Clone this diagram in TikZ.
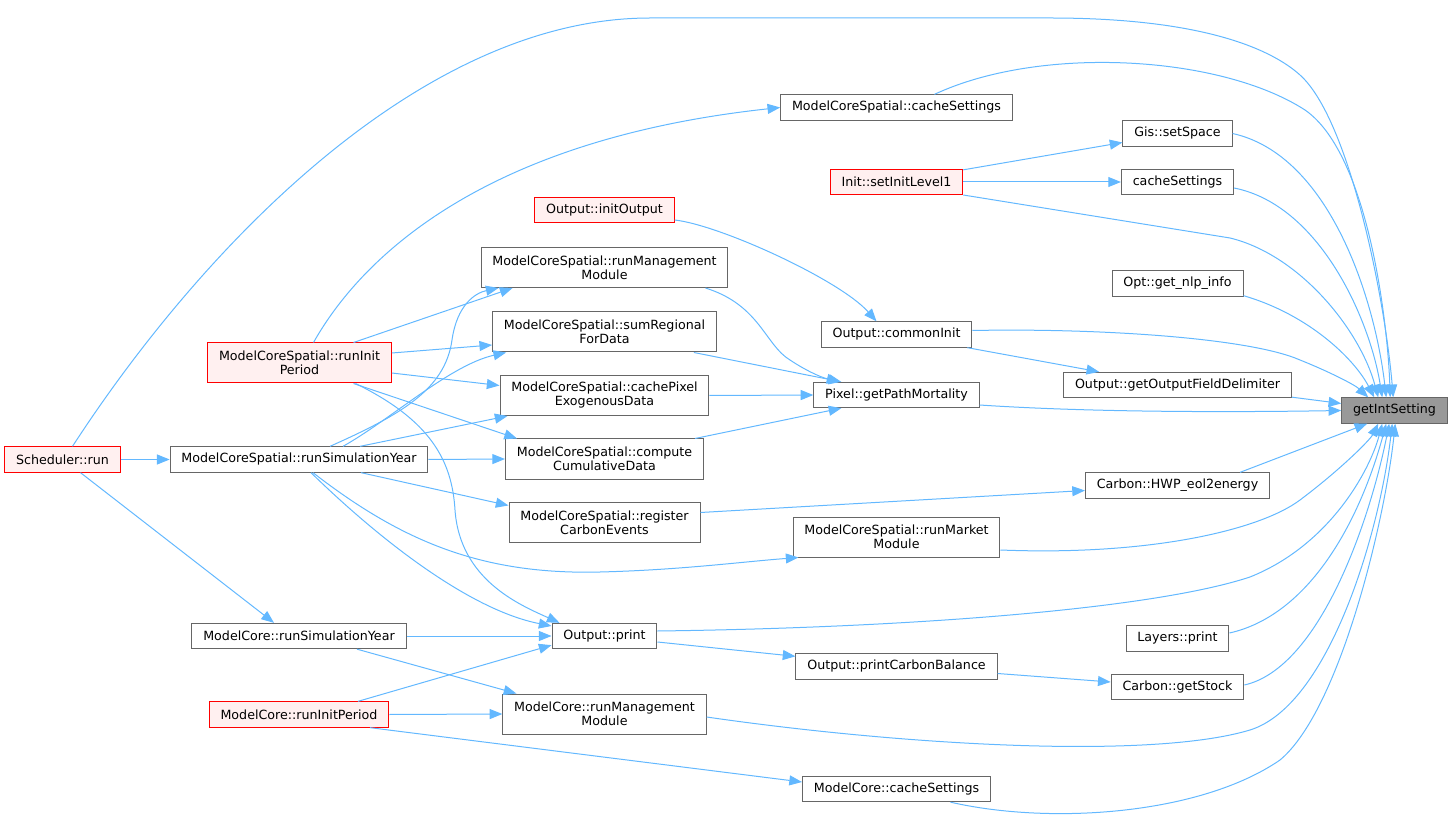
\documentclass[tikz,border=0pt]{standalone}
\usepackage{fontspec}
\setmainfont{DejaVu Sans}
\usepackage{tikz}
\usetikzlibrary{calc,arrows.meta}

\definecolor{edgeblue}{HTML}{63B8FF}
\definecolor{boxgray}{HTML}{666666}
\definecolor{rootgray}{HTML}{999999}
\definecolor{redfill}{HTML}{FFF0F0}

\begin{document}
\begin{tikzpicture}[x=0.75pt, y=-0.75pt,
    fn/.style={draw=boxgray, fill=white, line width=0.75pt, align=center,
      font=\fontsize{9.5}{10.5}\selectfont, inner xsep=8.5pt, inner ysep=4.6pt,
      minimum height=19pt},
    two/.style={minimum height=30pt},
    fnred/.style={fn, draw=red, fill=redfill},
    fnroot/.style={fn, fill=rootgray},
    call/.style={draw=edgeblue, line width=0.75pt,
      -{Triangle[length=9.5pt, width=7.5pt]}}]
    \useasboundingbox (0,0) rectangle (1453,823);

    % the function itself
    \node[fnroot] (g) at (1394.5,410.5) {getIntSetting};

    % left side
    \node[fnred] (sched) at (62.5,459.5) {Scheduler::run};
    \node[fn] (mcsSimYear) at (299,459.5) {ModelCoreSpatial::runSimulationYear};
    \node[fnred, two] (mcsInitPer) at (299.5,363) {ModelCoreSpatial::runInit\\Period};
    \node[fn] (mcSimYear) at (299,636) {ModelCore::runSimulationYear};
    \node[fnred] (mcInitPer) at (299,714.5) {ModelCore::runInitPeriod};

    % second column
    \node[fnred] (initOut) at (604.5,210) {Output::initOutput};
    \node[fn, two] (mcsMgmt) at (604.5,267.5) {ModelCoreSpatial::runManagement\\Module};
    \node[fn, two] (mcsSumReg) at (604.5,332) {ModelCoreSpatial::sumRegional\\ForData};
    \node[fn, two] (mcsPixel) at (604.5,395.5) {ModelCoreSpatial::cachePixel\\ExogenousData};
    \node[fn, two] (mcsCumul) at (604.5,459) {ModelCoreSpatial::compute\\CumulativeData};
    \node[fn, two] (mcsCarbon) at (604.5,522.5) {ModelCoreSpatial::register\\CarbonEvents};
    \node[fn] (outPrint) at (604.5,636) {Output::print};
    \node[fn, two] (mcMgmt) at (604.5,714) {ModelCore::runManagement\\Module};

    % third column
    \node[fn] (mcsCache) at (896.5,107.5) {ModelCoreSpatial::cacheSettings};
    \node[fnred] (initLvl) at (896.5,182) {Init::setInitLevel1};
    \node[fn] (commonInit) at (896.5,334.5) {Output::commonInit};
    \node[fn] (pixPath) at (896.5,395) {Pixel::getPathMortality};
    \node[fn, two] (mcsMarket) at (896.5,537) {ModelCoreSpatial::runMarket\\Module};
    \node[fn] (printCarb) at (896.5,666.5) {Output::printCarbonBalance};
    \node[fn] (mcCache) at (896.5,789) {ModelCore::cacheSettings};

    % fourth column
    \node[fn] (gisSpace) at (1177.5,133.5) {Gis::setSpace};
    \node[fn] (cacheSet) at (1177.5,182) {cacheSettings};
    \node[fn] (optNlp) at (1177.5,283.5) {Opt::get\_nlp\_info};
    \node[fn] (outDelim) at (1177.5,385) {Output::getOutputFieldDelimiter};
    \node[fn] (hwp) at (1177.5,485.5) {Carbon::HWP\_eol2energy};
    \node[fn] (layPrint) at (1177.5,638.5) {Layers::print};
    \node[fn] (getStock) at (1177.5,687) {Carbon::getStock};

    % Scheduler::run
    \draw[call] (sched.east) -- (mcsSimYear.west);
    \draw[call] ($(sched.south)+(18,0)$) -- ($(mcSimYear.north)-(25,0)$);
    \draw[call] ($(sched.north)+(10,0)$) .. controls (200,250) and (420,18) .. (650,18)
      -- (1050,18) .. controls (1200,18) and (1270,48) .. (1300,75)
      .. controls (1350,120) and (1385,300) .. ($(g.north west)+(52,0)$);

    % ModelCoreSpatial::runInitPeriod
    \draw[call] ($(mcsInitPer.north)+(14,0)$) .. controls (360,260) and (480,140) .. (mcsCache.west);
    \draw[call] ($(mcsInitPer.north)+(54,0)$) -- ($(mcsMgmt.south west)+(32,0)$);
    \draw[call] ($(mcsInitPer.east)+(0,-10)$) -- ($(mcsSumReg.west)+(0,13)$);
    \draw[call] ($(mcsInitPer.east)+(0,10)$) -- ($(mcsPixel.west)+(0,-10)$);
    \draw[call] ($(mcsInitPer.south)+(54,0)$) -- ($(mcsCumul.north west)+(12,0)$);
    \draw[call] ($(mcsInitPer.south)+(56,0)$) .. controls (430,420) and (452,460) .. (455,510)
      .. controls (460,580) and (520,605) .. ($(outPrint.north west)+(8,0)$);

    % ModelCoreSpatial::runSimulationYear
    \draw[call] ($(mcsSimYear.north)+(31,0)$) .. controls (400,415) and (445,390) .. (452,340)
      .. controls (457,305) and (475,293) .. ($(mcsMgmt.south west)+(18,0)$);
    \draw[call] ($(mcsSimYear.north)+(44,0)$) .. controls (390,420) and (450,365) .. ($(mcsSumReg.south west)+(14,0)$);
    \draw[call] ($(mcsSimYear.north)+(61,0)$) -- ($(mcsPixel.south west)+(8,0)$);
    \draw[call] (mcsSimYear.east) -- (mcsCumul.west);
    \draw[call] ($(mcsSimYear.south)+(62,0)$) -- ($(mcsCarbon.west)+(0,-17)$);
    \draw[call] ($(mcsSimYear.south)+(14,0)$) .. controls (400,540) and (480,575) .. (600,572)
      .. controls (680,570) and (740,562) .. ($(mcsMarket.south west)+(6,0)$);
    \draw[call] ($(mcsSimYear.south)+(12,0)$) .. controls (380,540) and (470,610) .. ($(outPrint.west)+(0,-10)$);

    % ModelCore
    \draw[call] (mcSimYear.east) -- (outPrint.west);
    \draw[call] ($(mcSimYear.south)+(58,0)$) -- ($(mcMgmt.north west)+(14,0)$);
    \draw[call] ($(mcInitPer.north)+(59,0)$) -- ($(outPrint.south west)+(0,-4)$);
    \draw[call] (mcInitPer.east) -- (mcMgmt.west);
    \draw[call] ($(mcInitPer.south)+(71,0)$) -- ($(mcCache.west)+(0,-7)$);

    % middle
    \draw[call] ($(initOut.east)+(0,10)$) .. controls (720,225) and (840,280) .. ($(commonInit.north)-(20,0)$);
    \draw[call] ($(mcsMgmt.south east)+(-23,0)$) .. controls (760,305) and (765,345) .. (790,360)
      .. controls (805,370) and (820,377) .. ($(pixPath.north west)+(26,0)$);
    \draw[call] ($(mcsSumReg.south east)+(-23,0)$) -- ($(pixPath.north west)+(28,0)$);
    \draw[call] (mcsPixel.east) -- (pixPath.west);
    \draw[call] ($(mcsCumul.north east)+(-9,0)$) -- ($(pixPath.south west)+(28,0)$);
    \draw[call] ($(commonInit.south east)+(-5,0)$) -- ($(outDelim.north west)+(36,0)$);
    \draw[call] ($(outPrint.east)+(0,6)$) -- ($(printCarb.north west)+(0,3)$);
    \draw[call] ($(printCarb.east)+(0,7)$) -- ($(getStock.west)+(0,-5)$);
    \draw[call] ($(mcsCarbon.east)+(0,-10)$) -- ($(hwp.west)+(0,5)$);
    \draw[call] ($(initLvl.north east)+(0,1)$) -- ($(gisSpace.west)+(0,9)$);
    \draw[call] (initLvl.east) -- (cacheSet.west);

    % into getIntSetting, from above
    \draw[call] ($(mcsCache.north)+(38,0)$) .. controls (1040,45) and (1220,55) .. (1305,110)
      .. controls (1370,155) and (1388,330) .. ($(g.north west)+(49,0)$);
    \draw[call] (gisSpace.east) .. controls (1330,155) and (1375,300) .. ($(g.north west)+(45,0)$);
    \draw[call] ($(cacheSet.east)+(0,6)$) .. controls (1320,205) and (1370,320) .. ($(g.north west)+(41,0)$);
    \draw[call] ($(initLvl.east)+(0,13)$) -- (1230,238) .. controls (1300,255) and (1360,330) .. ($(g.north west)+(37,0)$);
    \draw[call] ($(optNlp.south east)+(0,-1)$) .. controls (1310,315) and (1355,360) .. ($(g.north west)+(33,0)$);
    \draw[call] ($(commonInit.east)+(0,-4)$) .. controls (1100,328) and (1250,338) .. (1300,360)
      .. controls (1330,372) and (1355,385) .. ($(g.north west)+(27,0)$);
    \draw[call] ($(outDelim.south east)+(0,-1)$) -- ($(g.west)+(0,-7)$);
    \draw[call] ($(pixPath.east)+(0,10)$) .. controls (1100,413) and (1250,412) .. (g.west);

    % into getIntSetting, from below
    \draw[call] ($(hwp.north east)+(-30,0)$) -- ($(g.south west)+(26,0)$);
    \draw[call] ($(mcsMarket.east)+(0,13)$) .. controls (1150,556) and (1260,530) .. (1300,500)
      .. controls (1340,470) and (1370,440) .. ($(g.south west)+(37,0)$);
    \draw[call] ($(outPrint.east)+(0,-5)$) .. controls (900,628) and (1150,610) .. (1250,577)
      .. controls (1330,545) and (1370,470) .. ($(g.south west)+(41,0)$);
    \draw[call] ($(layPrint.east)+(0,-5.5)$) .. controls (1310,615) and (1360,520) .. ($(g.south west)+(45,0)$);
    \draw[call] ($(getStock.east)+(0,-2)$) .. controls (1320,668) and (1370,520) .. ($(g.south west)+(48,0)$);
    \draw[call] ($(mcMgmt.east)+(0,3)$) .. controls (900,745) and (1150,760) .. (1250,730)
      .. controls (1330,705) and (1380,530) .. ($(g.south west)+(51,0)$);
    \draw[call] ($(mcCache.south)+(54,0)$) .. controls (1050,825) and (1200,815) .. (1280,760)
      .. controls (1340,710) and (1385,520) .. ($(g.south west)+(54,0)$);
\end{tikzpicture}
\end{document}
